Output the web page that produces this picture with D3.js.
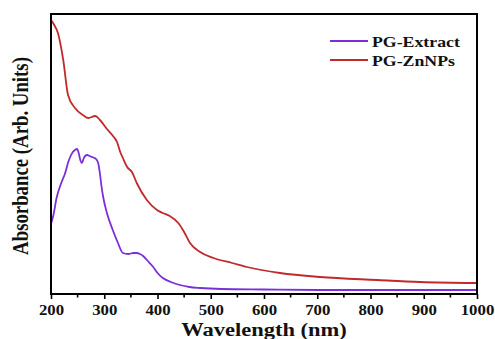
<!DOCTYPE html>
<html>
<head>
  <meta charset="utf-8">
  <title>UV-Vis absorbance</title>
  <style>
    body { margin: 0; background: #fff; }
    text { font-family: "Liberation Serif", "Times New Roman", serif; font-weight: bold; }
  </style>
</head>
<body>
  <svg width="495" height="339"></svg>
  <script src="https://cdn.jsdelivr.net/npm/d3@7"></script>
  <script>
  // data (absorbance in arbitrary units)
  var extractWl = [200, 205, 210, 220, 226, 233, 241, 245, 249, 252, 255, 258, 261, 264, 268, 272, 277, 282, 286, 289, 292, 295, 298, 305, 316, 325, 335, 345, 355, 361, 367, 373, 380, 392, 400, 410, 425, 442, 460, 480, 520, 600, 700, 800, 900, 1000];
  var extractAbs = [0.70, 0.80, 0.95, 1.12, 1.20, 1.33, 1.42, 1.44, 1.45, 1.41, 1.34, 1.31, 1.35, 1.38, 1.39, 1.38, 1.37, 1.36, 1.34, 1.30, 1.20, 1.07, 0.97, 0.81, 0.64, 0.52, 0.41, 0.40, 0.41, 0.41, 0.40, 0.38, 0.34, 0.27, 0.21, 0.16, 0.12, 0.09, 0.07, 0.06, 0.05, 0.045, 0.04, 0.04, 0.04, 0.04];

  var znWl = [200, 205, 213, 223, 232, 245, 260, 270, 283, 292, 305, 318, 324, 330, 335, 343, 352, 361, 380, 399, 410, 423, 439, 450, 461, 480, 505, 540, 568, 630, 705, 812, 893, 1000];
  var znAbs = [2.74, 2.70, 2.61, 2.34, 1.99, 1.86, 1.79, 1.76, 1.78, 1.74, 1.65, 1.57, 1.52, 1.42, 1.36, 1.27, 1.22, 1.11, 0.94, 0.84, 0.81, 0.78, 0.71, 0.62, 0.51, 0.42, 0.36, 0.31, 0.27, 0.21, 0.17, 0.14, 0.12, 0.11];

  var xTicks = [200, 300, 400, 500, 600, 700, 800, 900, 1000];
  var xMinor = [250, 350, 450, 550, 650, 750, 850, 950];
  var seriesNames = ["PG-Extract", "PG-ZnNPs"];
  var seriesColors = ["#7b2fd9", "#c12a2c"];

  var svg = d3.select("svg");
  var m = { left: 51, top: 14, right: 477, bottom: 294 };
  var stretch = 1.25; // the source figure is widened horizontally

  var x = d3.scaleLinear().domain([200, 1000]).range([m.left, m.right]);
  var y = d3.scaleLinear().domain([0, 2.8]).range([m.bottom, m.top]);

  var line = d3.line()
    .x(function(d) { return x(d[0]); })
    .y(function(d) { return y(d[1]); })
    .curve(d3.curveMonotoneX);

  var series = [
    d3.zip(extractWl, extractAbs),
    d3.zip(znWl, znAbs)
  ];

  svg.selectAll("path.series")
    .data(series)
    .enter()
    .append("path")
    .attr("class", "series")
    .attr("d", line)
    .attr("fill", "none")
    .attr("stroke", function(d, i) { return seriesColors[i]; })
    .attr("stroke-width", 1.8);

  // frame
  svg.append("rect")
    .attr("x", m.left)
    .attr("y", m.top)
    .attr("width", m.right - m.left)
    .attr("height", m.bottom - m.top)
    .attr("fill", "none")
    .attr("stroke", "#000")
    .attr("stroke-width", 2);

  // bottom axis
  var gx = svg.append("g").attr("transform", "translate(0," + m.bottom + ")");
  gx.call(d3.axisBottom(x).tickValues(xTicks).tickSize(5).tickPadding(3).tickFormat(d3.format("d")));
  gx.select(".domain").remove();
  gx.selectAll(".tick line").attr("stroke-width", 1.6);
  gx.selectAll(".tick text")
    .attr("font-size", 14)
    .attr("fill", "#111")
    .attr("font-family", "Liberation Serif")
    .attr("font-weight", "bold")
    .attr("dy", null)
    .attr("y", 21)
    .attr("transform", "scale(1.2,1)");

  gx.selectAll("line.minor")
    .data(xMinor)
    .enter()
    .append("line")
    .attr("class", "minor")
    .attr("x1", function(d) { return x(d); })
    .attr("x2", function(d) { return x(d); })
    .attr("y1", 0)
    .attr("y2", 3.5)
    .attr("stroke", "#000")
    .attr("stroke-width", 1.6);

  // axis titles
  svg.append("text")
    .attr("transform", "translate(264,336) scale(" + stretch + ",1)")
    .attr("text-anchor", "middle")
    .attr("font-size", 18)
    .attr("fill", "#111")
    .text("Wavelength (nm)");

  svg.append("text")
    .attr("transform", "translate(28,156) scale(1.2,1) rotate(-90)")
    .attr("text-anchor", "middle")
    .attr("font-size", 18.8)
    .attr("fill", "#111")
    .text("Absorbance (Arb. Units)");

  // legend
  var legend = svg.append("g");
  seriesNames.forEach(function(name, i) {
    var ly = 41 + i * 19;
    legend.append("line")
      .attr("x1", 330).attr("x2", 368)
      .attr("y1", ly).attr("y2", ly)
      .attr("stroke", seriesColors[i])
      .attr("stroke-width", 2);
    legend.append("text")
      .attr("transform", "translate(372," + (ly + 5.5) + ") scale(1.27,1)")
      .attr("font-size", 14)
      .attr("fill", "#111")
      .text(name);
  });
  </script>
</body>
</html>
